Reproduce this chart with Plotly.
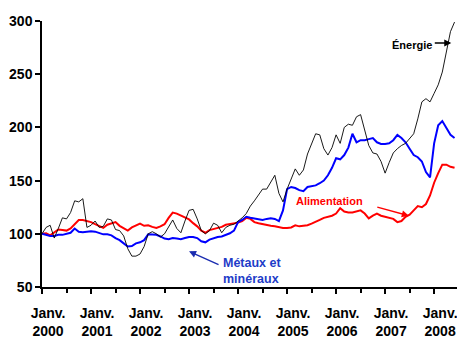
import plotly.graph_objects as go

# Monthly index values (Jan 2000 = 100), Jan 2000 .. Jun 2008
months = list(range(102))
years = [2000, 2001, 2002, 2003, 2004, 2005, 2006, 2007, 2008]

energie = [
    100, 106, 108, 96, 105, 115, 114, 120, 131, 130, 133, 106,
    108, 112, 106, 107, 114, 113, 104, 103, 98, 86, 79, 79,
    81, 88, 100, 102, 100, 97, 100, 106, 113, 105, 101, 112,
    122, 123, 114, 103, 100, 103, 110, 108, 101, 106, 108, 109,
    112, 115, 119, 126, 131, 136, 142, 142, 148, 155, 138, 130,
    142, 152, 161, 155, 160, 175, 185, 194, 193, 180, 174, 181,
    193, 185, 200, 203, 202, 210, 212, 196, 183, 176, 175, 168,
    157, 167, 176, 180, 183, 185, 190, 194, 208, 224, 227, 224,
    232, 240, 252, 272, 290, 299,
]

metaux = [
    100, 99, 98, 98, 99, 99, 100, 101, 105, 102, 101.5, 102,
    102.5, 102, 100.5, 99.5, 99.5, 98.5, 96, 94, 91, 88, 88.5, 91,
    92, 94, 99.5, 99, 99, 97.5, 95.5, 95, 96, 95.5, 95, 96,
    97, 97, 96, 93, 92, 94.5, 96, 97, 97.5, 99, 100.5, 103,
    111, 113, 116, 115, 114.5, 113.5, 113, 114, 114.5, 114, 112, 122,
    142, 144, 143, 141, 140, 144, 145, 145.5, 147.5, 150, 155, 162,
    171, 170, 174, 181, 194, 186, 188, 188, 189, 190, 186, 184.5,
    184.5, 185, 188, 193, 190, 186, 180, 174, 172, 168, 158, 153,
    185, 202, 206, 200, 193, 190,
]

alimentation = [
    100, 100.5, 98.5, 101, 104, 103.5, 103, 105, 109, 113, 113, 112,
    111, 109, 107, 105.5, 108.5, 110, 111, 107.5, 105, 103, 106, 108,
    109.5, 107.5, 108, 106.5, 105.5, 107, 109, 115, 120, 119, 117, 115,
    113.5, 110, 107, 103, 101, 103.5, 104.5, 105, 106.5, 108.5, 109, 109.5,
    110.5, 112, 115, 114, 111, 110, 109, 108.5, 107.5, 107, 106, 105.5,
    105.5, 106, 108, 107, 107.5, 108, 109.5, 111, 113, 115, 116, 117,
    119, 124, 121, 120, 120, 121, 122, 119, 114.5, 117, 119, 117,
    116, 115, 114, 111, 112, 116, 118, 122, 126, 125, 128, 136,
    148, 157, 165, 165, 163, 162,
]

y_ticks = [50, 100, 150, 200, 250, 300]
x_tick_pos = [12 * i for i in range(len(years))]
x_tick_text = ["Janv.<br>%d" % y for y in years]
x_minor_pos = [12 * i + 6 for i in range(len(years))]

FONT = "Arial, 'Liberation Sans', sans-serif"

fig = go.Figure()
fig.add_trace(go.Scatter(x=months, y=alimentation, mode="lines",
                         line=dict(color="#FF0000", width=2), name="Alimentation"))
fig.add_trace(go.Scatter(x=months, y=metaux, mode="lines",
                         line=dict(color="#0000FF", width=2), name="Métaux et minéraux"))
fig.add_trace(go.Scatter(x=months, y=energie, mode="lines",
                         line=dict(color="#000000", width=0.9), name="Énergie"))

annotations = [
    # Énergie label + arrow
    dict(x=90.7, y=277.0, text="<b>Énergie</b>", showarrow=False,
         font=dict(family=FONT, size=11, color="#000000"),
         xanchor="center", yanchor="middle"),
    dict(x=100.2, y=279.3, text="", showarrow=True, ax=-18, ay=0,
         arrowhead=2, arrowsize=1, arrowwidth=1.4, arrowcolor="#000000"),
    # Alimentation label + arrow
    dict(x=70.5, y=130.5, text="<b>Alimentation</b>", showarrow=False,
         font=dict(family=FONT, size=11, color="#FF0000"),
         xanchor="center", yanchor="middle"),
    dict(x=89.8, y=117, text="", showarrow=True, ax=-33, ay=-9,
         arrowhead=2, arrowsize=1, arrowwidth=1.4, arrowcolor="#FF0000"),
    # Métaux et minéraux label + arrow
    dict(x=43.9, y=65, text="<b>Métaux et<br>minéraux</b>", showarrow=False,
         font=dict(family=FONT, size=12.5, color="#1E3CC8"),
         xanchor="left", yanchor="middle", align="left"),
    dict(x=36.0, y=83.5, text="", showarrow=True, ax=31, ay=14,
         arrowhead=2, arrowsize=1, arrowwidth=1.4, arrowcolor="#1A2CB0"),
]

fig.update_layout(
    width=457, height=338,
    margin=dict(l=42, r=0, t=21, b=51),
    paper_bgcolor="white", plot_bgcolor="white",
    showlegend=False,
    font=dict(family=FONT, size=14, color="#000000"),
    annotations=annotations,
)

fig.update_xaxes(
    range=[0, 101.6], automargin=False,
    showgrid=False, zeroline=False,
    showline=True, linecolor="#000000", linewidth=1.5,
    tickmode="array", tickvals=x_tick_pos, ticktext=x_tick_text,
    ticks="outside", ticklen=5, tickwidth=1.5, tickcolor="#000000",
    tickfont=dict(family=FONT, size=14, color="#000000", weight="bold"),
    ticklabelshift=6, ticklabelstandoff=7, ticklabeloverflow="allow",
    minor=dict(tickmode="array", tickvals=x_minor_pos, ticks="outside",
               ticklen=4, tickwidth=1.5, tickcolor="#000000", showgrid=False),
)

fig.update_yaxes(
    range=[50, 300], automargin=False,
    showgrid=False, zeroline=False,
    showline=True, linecolor="#000000", linewidth=1.5,
    tickmode="array", tickvals=y_ticks,
    ticks="outside", ticklen=5, tickwidth=1.5, tickcolor="#000000",
    tickfont=dict(family=FONT, size=14, color="#000000", weight="bold"),
    ticklabelstandoff=0,
)

fig.write_html("out.html")
